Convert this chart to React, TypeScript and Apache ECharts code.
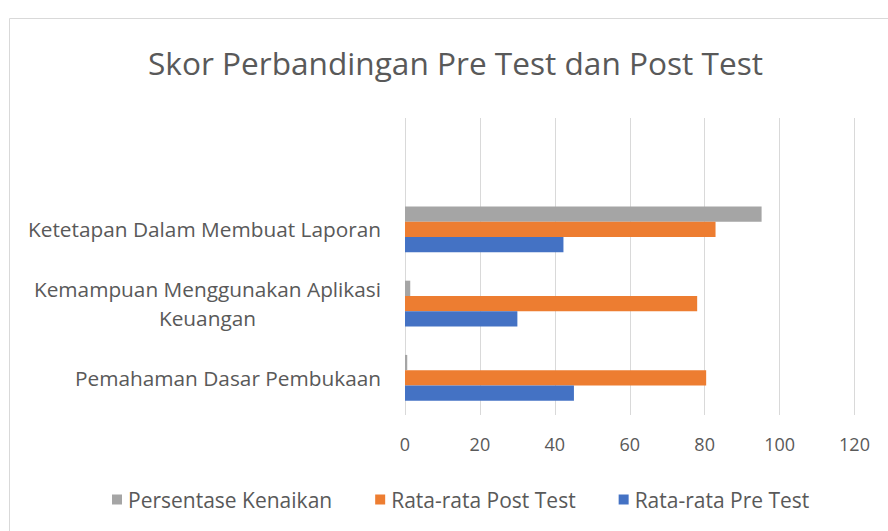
import React, { useEffect, useRef } from "react";
import * as echarts from "echarts";

const categories = [
  "Pemahaman Dasar Pembukaan",
  "Kemampuan Menggunakan Aplikasi\nKeuangan",
  "Ketetapan Dalam Membuat Laporan",
  "",
];
const preTest = [45.1, 30.0, 42.3, null];
const postTest = [80.4, 78.0, 82.9, null];
const kenaikan = [0.6, 1.4, 95.2, null];
const xTicks = [0, 20, 40, 60, 80, 100, 120];
const titleText = "Skor Perbandingan Pre Test dan Post Test";

const FONT = "Open Sans";

export default function App() {
  const ref = useRef<HTMLDivElement>(null);
  useEffect(() => {
    const chart = echarts.init(ref.current!, null, { renderer: "svg" });
    chart.setOption({
      animation: false,
      backgroundColor: "#ffffff",
      textStyle: { fontFamily: FONT },
      title: {
        text: titleText,
        left: 450.5,
        textAlign: "center",
        top: 41,
        textStyle: { fontFamily: FONT, fontSize: 31.6, fontWeight: "normal", color: "#595959" },
      },
      graphic: [
        {
          type: "rect",
          shape: { x: 9.5, y: 18.5, width: 900, height: 600 },
          style: { fill: "none", stroke: "#d9d9d9", lineWidth: 1 },
          silent: true,
        },
      ],
      legend: {
        data: ["Persentase Kenaikan", "Rata-rata Post Test", "Rata-rata Pre Test"],
        left: 107,
        top: 484,
        itemWidth: 10,
        itemHeight: 10,
        itemGap: 43,
        icon: "rect",
        textStyle: { fontFamily: FONT, fontSize: 21, color: "#595959", padding: [0, 0, 0, 1] },
      },
      grid: { left: 405, right: 33.5, top: 118, bottom: 116, containLabel: false },
      xAxis: {
        type: "value",
        min: xTicks[0],
        max: xTicks[xTicks.length - 1],
        interval: 20,
        axisLine: { show: false },
        axisTick: { show: false },
        splitLine: { lineStyle: { color: "#d9d9d9", width: 1 } },
        axisLabel: { fontFamily: FONT, fontSize: 18, color: "#595959", margin: 20 },
      },
      yAxis: {
        type: "category",
        data: categories,
        axisLine: { show: false },
        axisTick: { show: false },
        splitLine: { show: false },
        axisLabel: {
          margin: 24,
          formatter: (v: string) =>
            v
              .split("\n")
              .map((s) => `{a|${s}}`)
              .join("\n"),
          rich: {
            a: { fontFamily: FONT, fontSize: 20.8, color: "#595959", align: "center", lineHeight: 29 },
          },
        },
      },
      series: [
        {
          name: "Persentase Kenaikan",
          type: "bar",
          data: kenaikan,
          barWidth: 15.3,
          barGap: "0%",
          itemStyle: { color: "#a5a5a5" },
        },
        {
          name: "Rata-rata Post Test",
          type: "bar",
          data: postTest,
          barWidth: 15.3,
          barGap: "0%",
          itemStyle: { color: "#ed7d31" },
        },
        {
          name: "Rata-rata Pre Test",
          type: "bar",
          data: preTest,
          barWidth: 15.3,
          barGap: "0%",
          itemStyle: { color: "#4472c4" },
        },
      ],
    });
    return () => chart.dispose();
  }, []);
  return (
    <div
      ref={ref}
      style={{ position: "fixed", left: 0, top: 0, width: 888, height: 531 }}
    />
  );
}
